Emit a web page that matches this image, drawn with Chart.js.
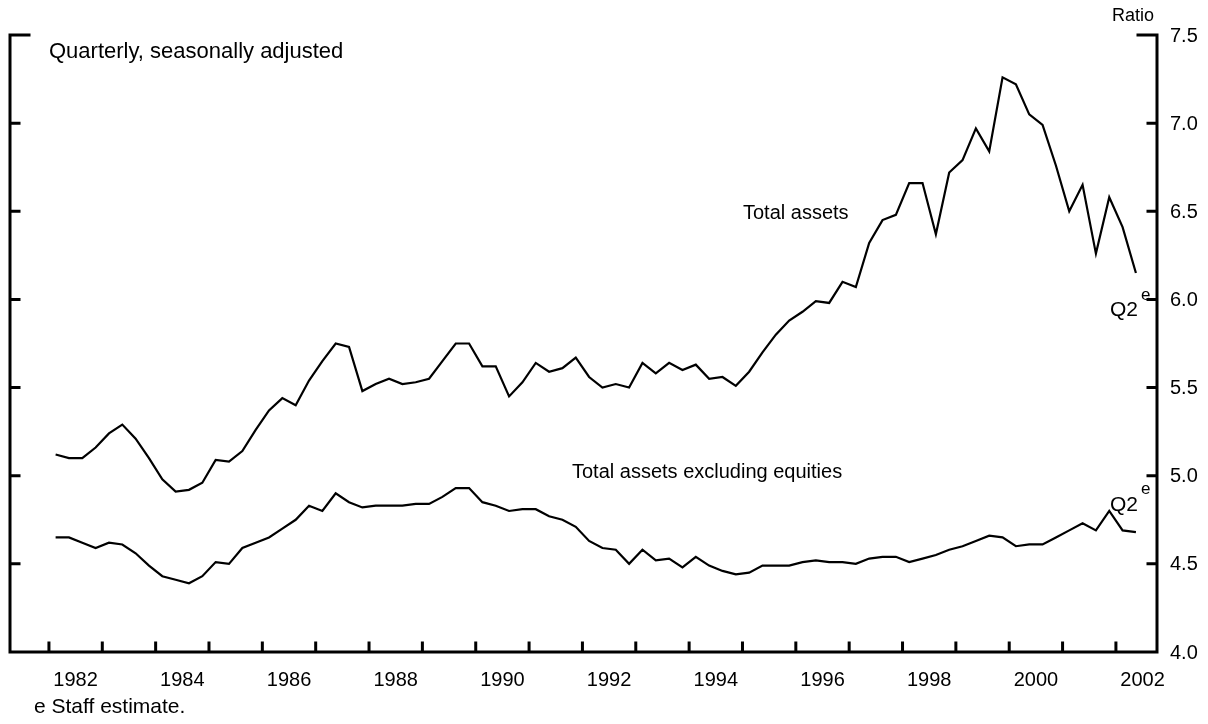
<!DOCTYPE html>
<html>
<head>
<meta charset="utf-8">
<script src="https://cdn.jsdelivr.net/npm/chart.js@4/dist/chart.umd.min.js"></script>
<style>
  html, body { margin: 0; padding: 0; background: #fff; }
  #wrap { width: 1208px; height: 724px; position: relative; }
</style>
</head>
<body>
<div id="wrap"><canvas id="ratioChart" width="1208" height="724"></canvas></div>
<script>
// ─── DATA ──────────────────────────────────────────────────
const FIRST_YEAR = 1982;
const LAST_YEAR  = 2002;

// quarter labels 1982Q1 .. 2002Q2
const quarters = [];
for (let y = FIRST_YEAR; y <= LAST_YEAR; y++) {
  for (let q = 1; q <= 4; q++) {
    if (y === LAST_YEAR && q > 2) break;
    quarters.push(y + 'Q' + q);
  }
}

const totalAssets = [
  5.12, 5.10, 5.10, 5.16,   5.24, 5.29, 5.21, 5.10,   4.98, 4.91, 4.92, 4.96,
  5.09, 5.08, 5.14, 5.26,   5.37, 5.44, 5.40, 5.54,   5.65, 5.75, 5.73, 5.48,
  5.52, 5.55, 5.52, 5.53,   5.55, 5.65, 5.75, 5.75,   5.62, 5.62, 5.45, 5.53,
  5.64, 5.59, 5.61, 5.67,   5.56, 5.50, 5.52, 5.50,   5.64, 5.58, 5.64, 5.60,
  5.63, 5.55, 5.56, 5.51,   5.59, 5.70, 5.80, 5.88,   5.93, 5.99, 5.98, 6.10,
  6.07, 6.32, 6.45, 6.48,   6.66, 6.66, 6.37, 6.72,   6.79, 6.97, 6.84, 7.26,
  7.22, 7.05, 6.99, 6.76,   6.50, 6.65, 6.26, 6.58,   6.41, 6.15,
];

const exEquities = [
  4.65, 4.65, 4.62, 4.59,   4.62, 4.61, 4.56, 4.49,   4.43, 4.41, 4.39, 4.43,
  4.51, 4.50, 4.59, 4.62,   4.65, 4.70, 4.75, 4.83,   4.80, 4.90, 4.85, 4.82,
  4.83, 4.83, 4.83, 4.84,   4.84, 4.88, 4.93, 4.93,   4.85, 4.83, 4.80, 4.81,
  4.81, 4.77, 4.75, 4.71,   4.63, 4.59, 4.58, 4.50,   4.58, 4.52, 4.53, 4.48,
  4.54, 4.49, 4.46, 4.44,   4.45, 4.49, 4.49, 4.49,   4.51, 4.52, 4.51, 4.51,
  4.50, 4.53, 4.54, 4.54,   4.51, 4.53, 4.55, 4.58,   4.60, 4.63, 4.66, 4.65,
  4.60, 4.61, 4.61, 4.65,   4.69, 4.73, 4.69, 4.80,   4.69, 4.68,
];

const yTickLabels = ['4.0', '4.5', '5.0', '5.5', '6.0', '6.5', '7.0', '7.5'];
const xTickLabels = ['1982', '1984', '1986', '1988', '1990', '1992',
                     '1994', '1996', '1998', '2000', '2002'];

// ─── HELPERS ───────────────────────────────────────────────
// '1987Q3' -> 1987.625 (middle of the quarter)
function quarterToX(label) {
  const [y, q] = label.split('Q').map(Number);
  return y + (q - 1) / 4 + 0.125;
}

function toPoints(values) {
  return values.map((v, i) => ({ x: quarterToX(quarters[i]), y: v }));
}

const FONT = '"Liberation Sans", Arial, Helvetica, sans-serif';

function text(ctx, str, x, y, size, align) {
  ctx.font = size + 'px ' + FONT;
  ctx.textAlign = align || 'left';
  ctx.fillText(str, x, y);
}

// ─── FRAME, TICKS & LABELS ─────────────────────────────────
const framePlugin = {
  id: 'frame',
  afterDraw(chart) {
    const { ctx, chartArea: a, scales: { x, y } } = chart;
    ctx.save();
    ctx.strokeStyle = '#000';
    ctx.fillStyle = '#000';
    ctx.lineWidth = 3;
    ctx.lineCap = 'square';

    ctx.beginPath();
    ctx.moveTo(a.left, a.top);  ctx.lineTo(a.left, a.bottom);
    ctx.lineTo(a.right, a.bottom); ctx.lineTo(a.right, a.top);

    // y ticks on both sides, pointing inward
    yTickLabels.forEach(lbl => {
      const v = Number(lbl);
      if (v === 4) return;
      const py = y.getPixelForValue(v);
      const len = v === 7.5 ? 19 : 9;
      ctx.moveTo(a.left, py);  ctx.lineTo(a.left + len, py);
      ctx.moveTo(a.right, py); ctx.lineTo(a.right - len, py);
    });

    // x ticks at every year start
    for (let yr = FIRST_YEAR; yr <= LAST_YEAR; yr++) {
      const px = x.getPixelForValue(yr);
      ctx.moveTo(px, a.bottom); ctx.lineTo(px, a.bottom - 9);
    }
    ctx.stroke();

    // tick labels
    ctx.textBaseline = 'middle';
    yTickLabels.forEach(lbl => {
      text(ctx, lbl, a.right + 13, y.getPixelForValue(Number(lbl)) + 1, 20);
    });
    xTickLabels.forEach(lbl => {
      text(ctx, lbl, x.getPixelForValue(Number(lbl) + 0.5), a.bottom + 28, 20, 'center');
    });

    // annotations
    ctx.textBaseline = 'alphabetic';
    text(ctx, 'Ratio', 1112, 21, 18);
    text(ctx, 'Quarterly, seasonally adjusted', 49, 58, 22);
    text(ctx, 'Total assets', 743, 219, 20);
    text(ctx, 'Total assets excluding equities', 572, 478, 20);
    text(ctx, 'Q2', 1110, 316, 21);
    text(ctx, 'e', 1141, 300, 17);
    text(ctx, 'Q2', 1110, 511, 21);
    text(ctx, 'e', 1141, 494, 17);
    text(ctx, 'e Staff estimate.', 34, 713, 21);
    ctx.restore();
  },
};

// ─── CHART ─────────────────────────────────────────────────
const lineStyle = { borderColor: '#000', borderWidth: 2.2, pointRadius: 0, tension: 0, fill: false };

new Chart(document.getElementById('ratioChart'), {
  type: 'line',
  data: {
    datasets: [
      { label: 'Total assets', data: toPoints(totalAssets), ...lineStyle },
      { label: 'Total assets excluding equities', data: toPoints(exEquities), ...lineStyle },
    ],
  },
  options: {
    responsive: false,
    animation: false,
    layout: { padding: { left: 10, right: 51, top: 35, bottom: 72 } },
    plugins: { legend: { display: false }, tooltip: { enabled: false } },
    scales: {
      x: { type: 'linear', min: 1981.27, max: 2002.77, display: false },
      y: { min: 4.0, max: 7.5, display: false },
    },
  },
  plugins: [framePlugin],
});
</script>
</body>
</html>
